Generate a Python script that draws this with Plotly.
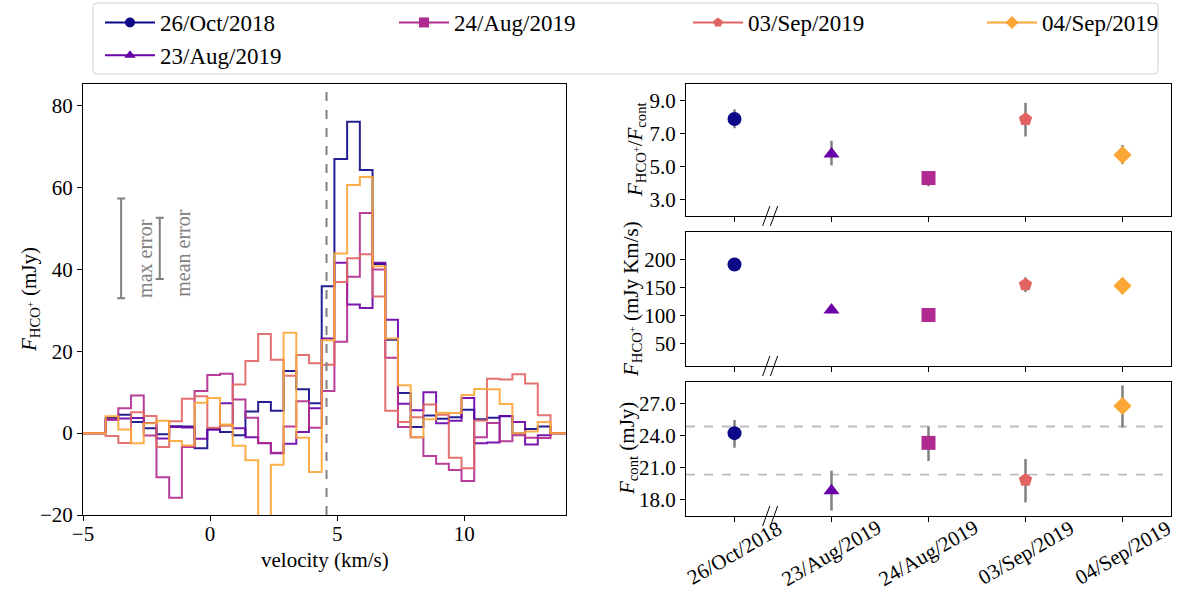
import plotly.graph_objects as go

# ---------------- data ----------------
dates = ["26/Oct/2018", "23/Aug/2019", "24/Aug/2019", "03/Sep/2019", "04/Sep/2019"]
colors = ["#0d0887", "#6a00a8", "#b12a90", "#e16462", "#fca636"]
symbols = ["circle", "triangle-up", "square", "pentagon", "diamond"]
legend_rank = [1, 5, 2, 3, 4]

# channel centres of the HCO+ spectra (km/s), zero padded at both ends
velocity = [-5.36, -4.86, -4.36, -3.86, -3.36, -2.86, -2.36, -1.86, -1.36, -0.86,
            -0.36, 0.14, 0.64, 1.14, 1.64, 2.14, 2.64, 3.14, 3.64, 4.14,
            4.64, 5.14, 5.64, 6.14, 6.64, 7.14, 7.64, 8.14, 8.64, 9.14,
            9.64, 10.14, 10.64, 11.14, 11.64, 12.14, 12.64, 13.14, 13.64, 14.14,
            14.64]

# HCO+ flux density per channel (mJy)
flux_oct26 = [0, 0, 0, 3.7, 4.5, 2.7, 1.2, -0.3, 1.7, 1.6, -3.7, 1.0, 0.3, -0.5, 5.3,
              7.6, 5.5, 15.2, 10.7, 7.3, 35.9, 67.0, 76.1, 64.3, 41.3, 22.8, 9.8, 1.5,
              4.3, 3.5, 3.9, 5.7, 3.4, 3.75, 4.1, -0.1, 1.0, 1.6, 0, 0, 0]
flux_aug23 = [0, 0, 0, 3.3, 3.6, 3.7, 2.5, -1.3, 1.5, 1.4, -1.4, 0.8, 7.3, 1.2, -1.0,
              -2.5, -4.9, -2.6, 0.3, 6.1, 23.1, 41.6, 31.4, 30.6, 41.6, 27.7, 7.2, 5.6,
              10.0, 2.4, 3.0, 8.6, -2.5, -2.3, 4.2, 2.7, -2.8, -0.5, 0, 0, 0]
flux_aug24 = [0, 0, 0, 3.4, 6.1, 9.2, -0.6, -10.8, -15.8, -3.4, 10.3, 14.2, 14.5, 8.2,
              3.75, -2.4, -4.8, 1.6, 7.8, 1.3, 10.3, 22.3, 38.2, 53.8, 40.0, 18.4, 1.5,
              -1.0, -5.6, -7.5, -9.0, -11.7, -1.0, 2.5, -2.0, -0.5, -1.1, -1.2, 0, 0, 0]
flux_sep03 = [0, 0, 0, -0.7, -2.4, 5.1, 4.2, -3.4, 2.9, 8.4, 9.0, 1.3, 1.8, 11.9, 17.6,
              24.2, 17.9, 14.0, 19.1, 17.1, 16.7, 36.9, 42.7, 43.7, 33.4, 5.5, 2.7, 3.9,
              7.0, 4.5, -6.0, -8.6, 3.1, 13.3, 13.1, 14.4, 12.1, 4.4, 0, 0, 0]
flux_sep04 = [0, 0, 0, 4.1, 0.9, -2.5, 2.4, 3.0, -1.9, -3.0, 7.4, 8.6, 2.1, -3.1, -6.6,
              -32.0, -7.7, 24.5, -1.1, -9.5, 22.7, 43.9, 60.6, 62.6, 40.8, 23.1, 11.7,
              -1.0, 3.4, 5.0, 4.9, 9.3, 10.8, 10.7, 7.1, 0.0, 0.4, 2.7, 0, 0, 0]
spectra = [flux_oct26, flux_aug23, flux_aug24, flux_sep03, flux_sep04]

v_sys = 4.58                      # systemic velocity (km/s)
err_y_centre = 45.15              # where the error scale bars sit (mJy)
max_error = 12.2
mean_error = 7.5
max_error_v = -3.50
mean_error_v = -1.98

# line-to-continuum ratio
ratio = [7.88, 5.76, 4.30, 7.86, 5.70]
ratio_err_hi = [0.58, 0.80, 0.42, 1.00, 0.60]
ratio_err_lo = [0.56, 0.70, 0.50, 1.04, 0.56]
# integrated HCO+ flux (mJy km/s)
int_flux = [191, 110, 101, 155, 153]
int_flux_err_hi = [3, 3, 3, 13, 5]
int_flux_err_lo = [3, 3, 3, 13, 5]
# continuum flux (mJy)
cont = [24.26, 18.87, 23.35, 19.87, 26.81]
cont_err_hi = [1.24, 1.87, 1.52, 1.96, 1.93]
cont_err_lo = [1.36, 1.87, 1.69, 2.09, 2.02]
cont_band = [20.37, 24.88]

# ---------------- figure ----------------
W, H = 1181, 602
FONT = "Liberation Serif"
ERR_GREY = "#808080"

fig = go.Figure()

# spectra (left panel)
for i, name in enumerate(dates):
    fig.add_trace(go.Scatter(
        x=velocity, y=spectra[i], mode="lines", line_shape="hvh",
        line=dict(color=colors[i], width=2), opacity=0.9,
        showlegend=False, xaxis="x", yaxis="y", hoverinfo="skip"))

# error scale bars
for xv, err in [(max_error_v, max_error), (mean_error_v, mean_error)]:
    fig.add_trace(go.Scatter(
        x=[xv], y=[err_y_centre], mode="markers",
        marker=dict(size=1, color="rgba(0,0,0,0)"),
        error_y=dict(type="data", array=[err], color=ERR_GREY, thickness=2, width=4),
        showlegend=False, xaxis="x", yaxis="y", hoverinfo="skip"))

# right-hand panels
cats = list(range(len(dates)))
panels = [
    ("x2", "y2", ratio, ratio_err_hi, ratio_err_lo),
    ("x3", "y3", int_flux, int_flux_err_hi, int_flux_err_lo),
    ("x4", "y4", cont, cont_err_hi, cont_err_lo),
]
for xa, ya, vals, ehi, elo in panels:
    for i, name in enumerate(dates):
        fig.add_trace(go.Scatter(
            x=[cats[i]], y=[vals[i]], mode="markers", name=name,
            marker=dict(symbol=symbols[i], size=14, color=colors[i],
                        line=dict(width=0)),
            error_y=dict(type="data", symmetric=False, array=[ehi[i]],
                         arrayminus=[elo[i]], color=ERR_GREY, thickness=2.5, width=0),
            showlegend=False, xaxis=xa, yaxis=ya))

# legend entries (line + marker per epoch)
for i, name in enumerate(dates):
    fig.add_trace(go.Scatter(
        x=[None], y=[None], mode="lines+markers", name=name,
        legendrank=legend_rank[i],
        line=dict(color=colors[i], width=2),
        marker=dict(symbol=symbols[i], size=10, color=colors[i], line=dict(width=0)),
        showlegend=True, xaxis="x2", yaxis="y2"))

# ---------------- layout ----------------
def px_x(p):
    return p / W

def px_y(p):
    return 1 - p / H

axis_common = dict(showline=True, mirror=True, linecolor="black", linewidth=1,
                   ticks="outside", ticklen=5, tickwidth=1, tickcolor="black",
                   showgrid=False, zeroline=False,
                   tickfont=dict(family=FONT, size=21, color="black"))

left_dom_x = [px_x(83), px_x(566)]
right_dom_x = [px_x(686), px_x(1171)]

layout = dict(
    width=W, height=H, margin=dict(l=0, r=0, t=0, b=0, autoexpand=False),
    paper_bgcolor="white", plot_bgcolor="white",
    font=dict(family=FONT, size=21, color="black"),
    xaxis=dict(domain=left_dom_x, range=[-5, 14], tickvals=[-5, 0, 5, 10],
               ticklabelstandoff=-5, anchor="y", **axis_common),
    yaxis=dict(domain=[px_y(515), px_y(84)], range=[-20, 85.3],
               tickvals=[-20, 0, 20, 40, 60, 80], anchor="x", **axis_common),
    xaxis2=dict(domain=right_dom_x, range=[-0.5, 4.5], tickvals=cats,
                showticklabels=False, anchor="y2", **axis_common),
    yaxis2=dict(domain=[px_y(216), px_y(84)], range=[2.0, 10.0],
                tickvals=[3, 5, 7, 9], ticktext=["3.0", "5.0", "7.0", "9.0"],
                anchor="x2", **axis_common),
    xaxis3=dict(domain=right_dom_x, range=[-0.5, 4.5], tickvals=cats,
                showticklabels=False, anchor="y3", **axis_common),
    yaxis3=dict(domain=[px_y(366), px_y(232)], range=[10, 249],
                tickvals=[50, 100, 150, 200], anchor="x3", **axis_common),
    xaxis4=dict(domain=right_dom_x, range=[-0.5, 4.5], tickvals=cats,
                showticklabels=False, anchor="y4", **axis_common),
    yaxis4=dict(domain=[px_y(516), px_y(382)], range=[16.5, 29.05],
                tickvals=[18, 21, 24, 27], ticktext=["18.0", "21.0", "24.0", "27.0"],
                anchor="x4", **axis_common),
    legend=dict(orientation="h", x=px_x(100), y=px_y(1), xanchor="left", yanchor="top",
                itemwidth=50, entrywidth=229, entrywidthmode="pixels",
                font=dict(family=FONT, size=23, color="black"),
                bgcolor="rgba(0,0,0,0)", borderwidth=0, tracegroupgap=0),
)
fig.update_layout(**layout)

# legend frame with rounded corners (paper coordinates)
x0, x1, y0, y1 = px_x(93), px_x(1158), px_y(74), px_y(3)
rx, ry = 4 / W, 4 / H
frame_path = (f"M {x0+rx},{y1} L {x1-rx},{y1} Q {x1},{y1} {x1},{y1-ry} "
              f"L {x1},{y0+ry} Q {x1},{y0} {x1-rx},{y0} L {x0+rx},{y0} "
              f"Q {x0},{y0} {x0},{y0+ry} L {x0},{y1-ry} Q {x0},{y1} {x0+rx},{y1} Z")
fig.add_shape(type="path", path=frame_path, xref="paper", yref="paper",
              line=dict(color="#d0d0d0", width=1), fillcolor="rgba(255,255,255,0.8)",
              layer="below")

# systemic velocity
fig.add_shape(type="line", xref="x", yref="y domain", x0=v_sys, x1=v_sys, y0=0, y1=1,
              line=dict(color="#808080", width=2, dash="dash"))

# continuum reference band
for yv in cont_band:
    fig.add_shape(type="line", xref="x4 domain", yref="y4", x0=0, x1=1, y0=yv, y1=yv,
                  line=dict(color="#bdbdbd", width=1.8, dash="dash"), layer="below")

# axis-break marks between the 2018 and 2019 epochs
for xa, ya in [("x2", "y2 domain"), ("x3", "y3 domain"), ("x4", "y4 domain")]:
    for xs in (0.29, 0.37):
        fig.add_shape(type="line", xref=xa, yref=ya, x0=xs, x1=xs + 0.075,
                      y0=-0.075, y1=0.075, line=dict(color="black", width=1))

# date tick labels
for i, name in enumerate(dates):
    fig.add_annotation(x=cats[i], y=px_y(553), xref="x4", yref="paper", text=name,
                       textangle=-30, showarrow=False, xanchor="center", yanchor="middle",
                       font=dict(family=FONT, size=21, color="black"))

# axis titles
title_font = dict(family=FONT, size=21, color="black")
titles = [
    ((left_dom_x[0] + left_dom_x[1]) / 2, 560, "velocity (km/s)", 0),
    (px_x(30), 300, "<i>F</i><sub>HCO<sup>+</sup></sub> (mJy)", -90),
    (px_x(636), 150, "<i>F</i><sub>HCO<sup>+</sup></sub>/<i>F</i><sub>cont</sub>", -90),
    (px_x(632), 299, "<i>F</i><sub>HCO<sup>+</sup></sub> (mJy Km/s)", -90),
    (px_x(628), 449, "<i>F</i><sub>cont</sub> (mJy)", -90),
]
for xp, yp, txt, ang in titles:
    fig.add_annotation(x=xp, y=px_y(yp), xref="paper", yref="paper", text=txt,
                       textangle=ang, showarrow=False, xanchor="center",
                       yanchor="middle", font=title_font)

# labels of the error scale bars
fig.add_annotation(x=-2.54, y=42.7, xref="x", yref="y", text="max error", textangle=-90,
                   showarrow=False, xanchor="center", yanchor="middle",
                   font=dict(family=FONT, size=20, color=ERR_GREY))
fig.add_annotation(x=-1.10, y=44.1, xref="x", yref="y", text="mean error", textangle=-90,
                   showarrow=False, xanchor="center", yanchor="middle",
                   font=dict(family=FONT, size=20, color=ERR_GREY))

fig.write_html("out.html")
